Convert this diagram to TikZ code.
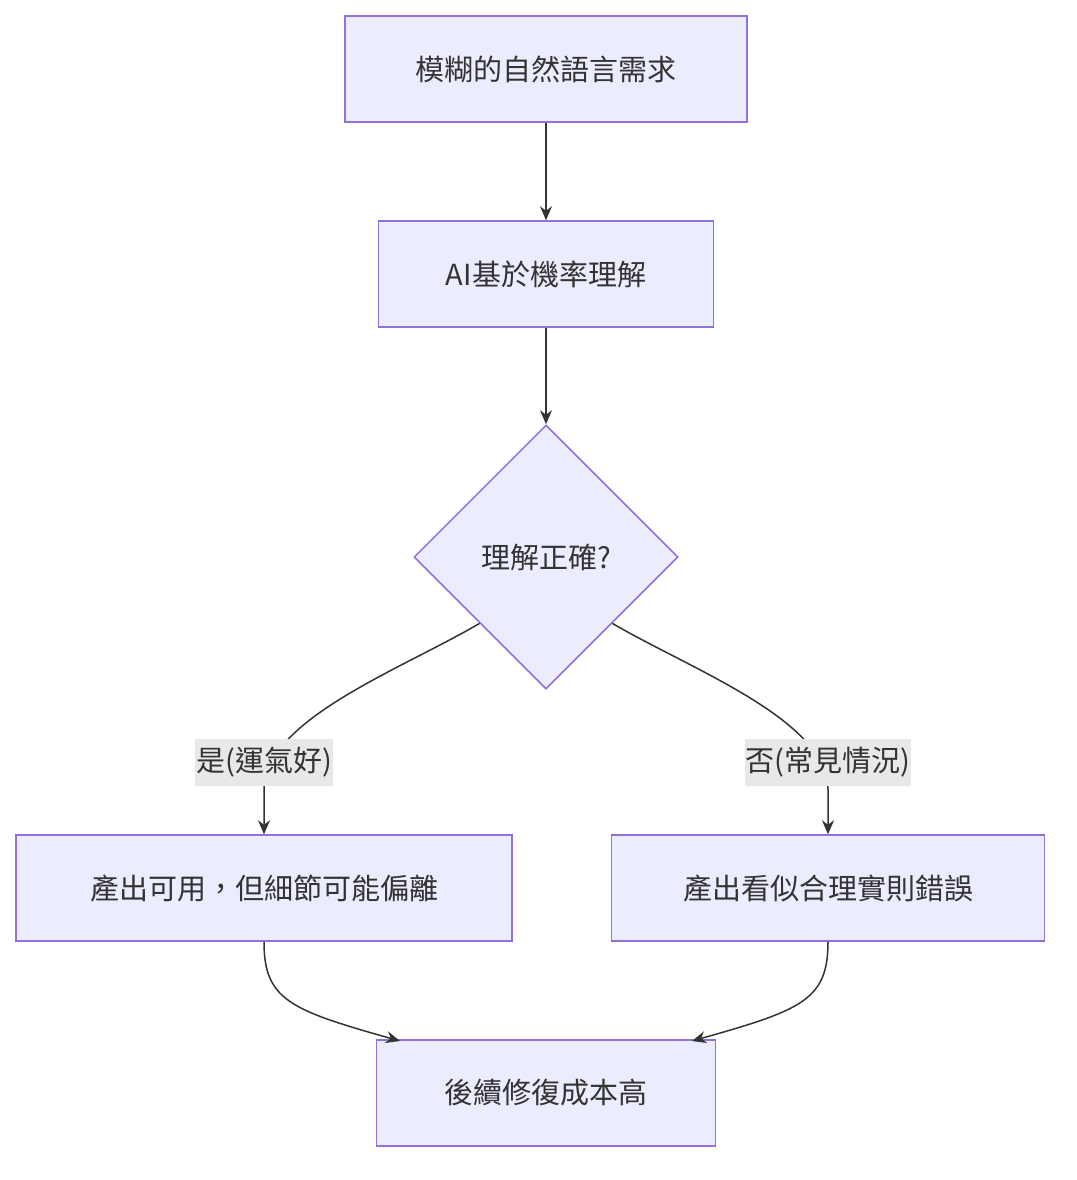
\documentclass[tikz,border=0pt]{standalone}
\usepackage{fontspec}
\setmainfont{Noto Sans CJK TC}
\usetikzlibrary{shapes.geometric,arrows.meta}
\definecolor{nodefill}{HTML}{ECECFF}
\definecolor{nodeline}{HTML}{9370DB}
\definecolor{edge}{HTML}{333333}
\definecolor{lblbg}{HTML}{E8E8E8}
\begin{document}
\begin{tikzpicture}[x=1pt,y=-1pt,
  box/.style={draw=nodeline,fill=nodefill,line width=1.5pt,inner sep=0pt,font=\fontsize{29}{34}\selectfont,text=edge},
  dia/.style={diamond,draw=nodeline,fill=nodefill,line width=1.5pt,inner sep=0pt,minimum width=264pt,minimum height=264pt,font=\fontsize{29}{34}\selectfont,text=edge},
  lbl/.style={fill=lblbg,inner sep=1pt,minimum height=47pt,font=\fontsize{29}{34}\selectfont,text=edge},
  arr/.style={draw=edge,line width=1.5pt,-{Stealth[length=14pt,width=12pt]}}]
\useasboundingbox (0,0) rectangle (1076,1180);
\node[box,minimum width=402pt,minimum height=106pt] (A) at (546,69) {模糊的自然語言需求};
\node[box,minimum width=335pt,minimum height=106pt] (B) at (546,274) {AI基於機率理解};
\node[dia] (D) at (546,557) {理解正確?};
\node[box,minimum width=496pt,minimum height=106pt] (L) at (264,888) {產出可用，但細節可能偏離};
\node[box,minimum width=433pt,minimum height=106pt] (R) at (828,888) {產出看似合理實則錯誤};
\node[box,minimum width=339pt,minimum height=106pt] (E) at (546,1093) {後續修復成本高};
\draw[arr] (A) -- (B);
\draw[arr] (B) -- (D);
\draw[arr] (D.south west) .. controls (400,670) and (264,720) .. (264,790) -- (L.north);
\draw[arr] (D.south east) .. controls (692,670) and (828,720) .. (828,790) -- (R.north);
\node[lbl] (l1) at (264,762) {是(運氣好)};
\node[lbl] (l2) at (828,762) {否(常見情況)};
\draw[arr] (L.south) .. controls (264,1000) and (290,1010) .. (400,1041);
\draw[arr] (R.south) .. controls (828,1000) and (802,1010) .. (692,1041);
\end{tikzpicture}
\end{document}
